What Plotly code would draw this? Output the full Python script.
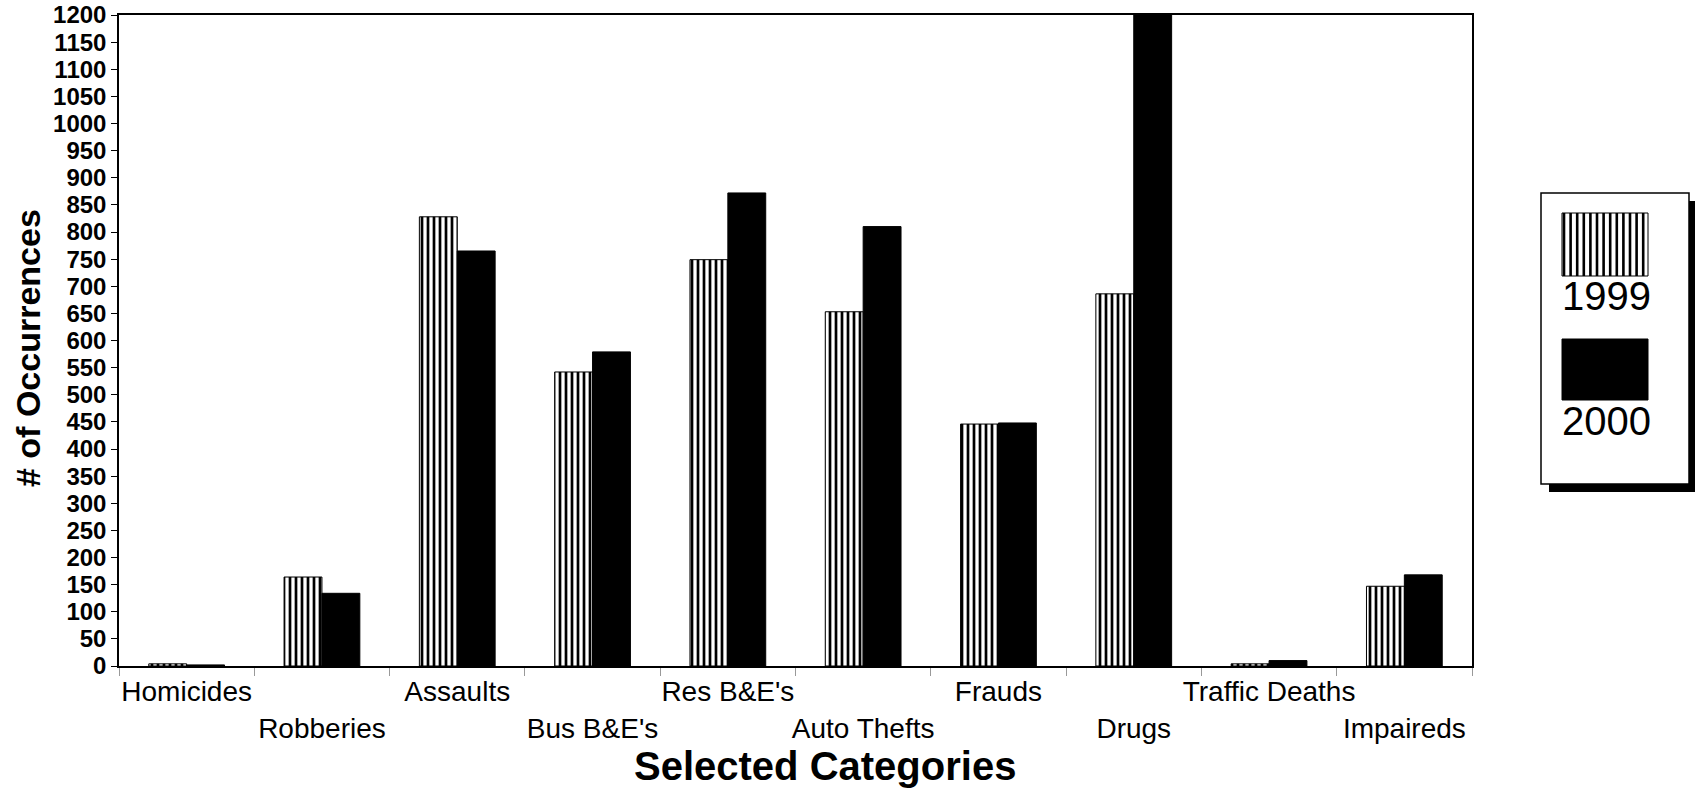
import plotly.graph_objects as go

categories = ["Homicides", "Robberies", "Assaults", "Bus B&E's", "Res B&E's",
              "Auto Thefts", "Frauds", "Drugs", "Traffic Deaths", "Impaireds"]
values_1999 = [4, 164, 828, 542, 749, 653, 446, 686, 4, 147]
values_2000 = [2, 134, 765, 579, 872, 810, 448, 1205, 10, 168]
series_names = ["1999", "2000"]
y_ticks = list(range(0, 1201, 50))

# staggered two-row category labels
tick_text = [c if i % 2 == 0 else "<br>" + c for i, c in enumerate(categories)]

W, H = 1696, 791
L, R, T, B = 119, 1472, 15, 666
FONT = "Liberation Sans, Arial, sans-serif"


def px(x):
    return (x - L) / (R - L)


def py(y):
    return (B - y) / (B - T)


fig = go.Figure()
fig.add_trace(go.Bar(
    name=series_names[0], x=categories, y=values_1999,
    marker=dict(color="white", line=dict(color="black", width=1),
                pattern=dict(shape="|", size=6, solidity=0.45,
                             fgcolor="black", bgcolor="white", fillmode="replace")),
    showlegend=False,
))
fig.add_trace(go.Bar(
    name=series_names[1], x=categories, y=values_2000,
    marker=dict(color="black", line=dict(color="black", width=1)),
    showlegend=False,
))

# legend drawn manually (swatch above label, with drop shadow)
shapes = [
    dict(type="rect", xref="paper", yref="paper", x0=px(1549), x1=px(1695), y0=py(492), y1=py(201),
         fillcolor="black", line=dict(width=0), layer="above"),
    dict(type="rect", xref="paper", yref="paper", x0=px(1541), x1=px(1689), y0=py(484), y1=py(193),
         fillcolor="white", line=dict(color="black", width=1.5), layer="above"),
    dict(type="rect", xref="paper", yref="paper", x0=px(1562), x1=px(1648), y0=py(276), y1=py(213),
         fillcolor="white", line=dict(color="black", width=1), layer="above"),
    dict(type="rect", xref="paper", yref="paper", x0=px(1562), x1=px(1648), y0=py(400), y1=py(339),
         fillcolor="black", line=dict(color="black", width=1), layer="above"),
]
path = ""
xs = 1564.0
while xs < 1648:
    path += f"M {px(xs):.5f} {py(213):.5f} L {px(xs):.5f} {py(276):.5f} "
    xs += 6.6
shapes.append(dict(type="path", xref="paper", yref="paper", path=path,
                   line=dict(color="black", width=2.6), layer="above"))

annotations = [
    dict(text="1999", xref="paper", yref="paper", x=px(1606), y=py(296), showarrow=False,
         xanchor="center", yanchor="middle", font=dict(family=FONT, size=40, color="black")),
    dict(text="2000", xref="paper", yref="paper", x=px(1606), y=py(421), showarrow=False,
         xanchor="center", yanchor="middle", font=dict(family=FONT, size=40, color="black")),
    dict(text="<b>Selected Categories</b>", xref="paper", yref="paper", x=px(825), y=py(766),
         showarrow=False, xanchor="center", yanchor="middle",
         font=dict(family=FONT, size=40, color="black")),
    dict(text="<b># of Occurrences</b>", xref="paper", yref="paper", x=px(28), y=py(348),
         showarrow=False, xanchor="center", yanchor="middle", textangle=-90,
         font=dict(family=FONT, size=34, color="black")),
]

fig.update_layout(
    width=W, height=H,
    margin=dict(l=L, r=W - R, t=T, b=H - B, pad=0, autoexpand=False),
    paper_bgcolor="white", plot_bgcolor="white",
    barmode="group", bargap=0.44, bargroupgap=0,
    shapes=shapes, annotations=annotations,
    font=dict(family=FONT, color="black"),
)
fig.update_xaxes(
    type="category", tickvals=categories, ticktext=tick_text,
    tickangle=0, automargin=False,
    tickfont=dict(family=FONT, size=28, color="black"),
    showline=True, linecolor="black", linewidth=1.5, mirror=True,
    ticks="outside", tickson="boundaries", ticklen=8, tickcolor="#999999",
    showgrid=False,
)
fig.update_yaxes(
    range=[0, 1200], tickvals=y_ticks, automargin=False,
    tickfont=dict(family=FONT, size=24, color="black", weight="bold"),
    showline=True, linecolor="black", linewidth=1.5, mirror=True,
    ticks="outside", ticklen=6, tickcolor="black",
    showgrid=False, zeroline=False,
)

fig.write_html(
    "out.html",
    config={"displayModeBar": False},
    post_script="document.body.style.margin='0';document.body.style.overflow='hidden';",
)
